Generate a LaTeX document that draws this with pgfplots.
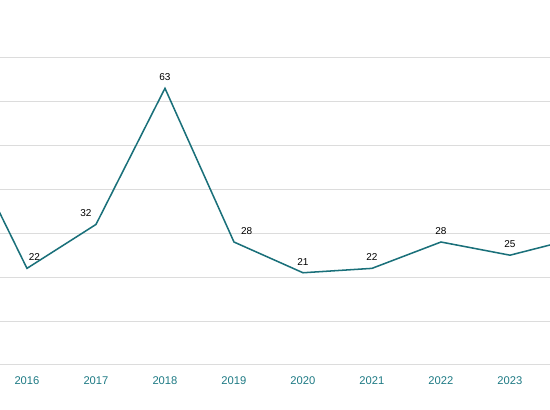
\documentclass[border=0pt]{standalone}
\usepackage{pgfplots}
\pgfplotsset{compat=1.18}
\usepackage{pgfplotstable}
\usepackage{fontspec}
\setmainfont{Liberation Sans}
\definecolor{lineteal}{RGB}{26,112,122}
\definecolor{tickteal}{RGB}{30,122,132}
\definecolor{gridgray}{RGB}{220,220,220}
\pgfplotstableread{
year val dx lab
2015 54 0 {}
2016 22 5.5 22
2017 32 -7.5 32
2018 63 0 63
2019 28 9.5 28
2020 21 0 21
2021 22 0 22
2022 28 0 28
2023 25 0 25
2024 29 0 {}
}\datatable
\begin{document}
\begin{tikzpicture}
\useasboundingbox (0,-33.75pt) rectangle (412.5pt,273.75pt);
\clip (0,-33.75pt) rectangle (412.5pt,273.75pt);
\begin{axis}[
  at={(0,0)}, anchor=south west,
  scale only axis,
  width=412.5pt, height=273.75pt,
  xmin=2015.609, xmax=2023.580,
  ymin=0, ymax=83.1,
  axis line style={draw=none},
  ytick={0,10,...,70},
  yticklabels={},
  ymajorgrids,
  grid style={gridgray, line width=0.75pt},
  major tick length=0pt,
  xtick={2016,2017,...,2023},
  xticklabel style={font=\fontsize{8.4}{10}\selectfont, text=tickteal, anchor=center, yshift=-12pt},
  /pgf/number format/1000 sep={},
  /pgf/number format/assume math mode=true,
  clip=false,
]
\addplot[lineteal, line width=1.15pt, mark=none,
  point meta=explicit symbolic,
  nodes near coords,
  visualization depends on={\thisrow{dx} \as \dx},
  every node near coord/.append style={font=\fontsize{7.5}{9}\selectfont, text=black, anchor=center, yshift=8.25pt, xshift=\dx pt},
] table[x=year, y=val, meta=lab] {\datatable};
\end{axis}
\end{tikzpicture}
\end{document}
